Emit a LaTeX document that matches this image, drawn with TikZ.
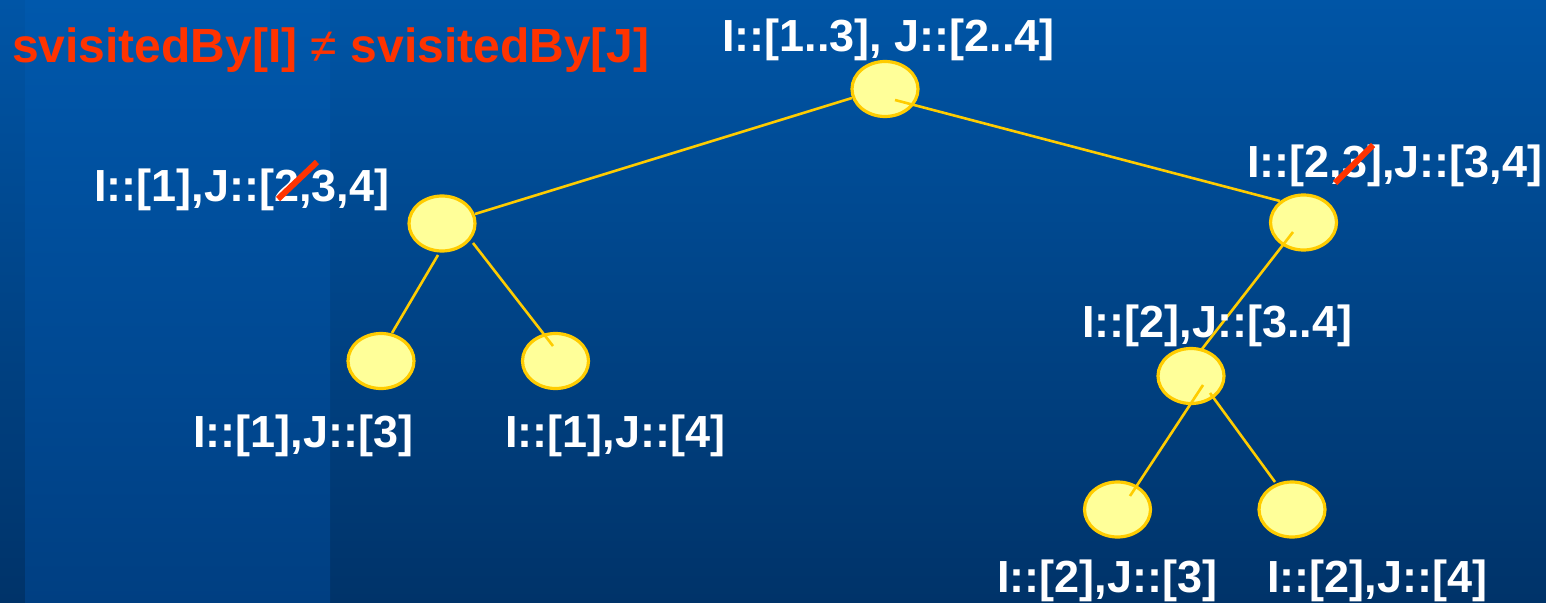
\documentclass[tikz,border=0pt]{standalone}
\usepackage{fontspec}
\setmainfont{Liberation Sans}
\usetikzlibrary{calc,shapes.geometric}
\definecolor{bgtop}{RGB}{0,85,166}
\definecolor{bgbot}{RGB}{0,51,105}
\definecolor{bandtop}{RGB}{0,88,172}
\definecolor{bandbot}{RGB}{0,63,130}
\definecolor{nodefill}{RGB}{255,255,153}
\definecolor{nodeline}{RGB}{255,204,0}
\definecolor{redtxt}{RGB}{255,51,0}
\tikzset{
  vert/.style={ellipse, draw=nodeline, fill=nodefill, line width=3.2pt, minimum width=66pt, minimum height=55pt, inner sep=0pt},
  lbl/.style={anchor=base west, inner sep=0pt, text=white, font=\fontsize{45}{54}\selectfont\bfseries},
  edge/.style={draw=nodeline, line width=2.6pt},
  strike/.style={draw=redtxt, line width=6pt}
}
\begin{document}
\begin{tikzpicture}[x=1pt,y=-1pt]
\useasboundingbox (0,0) rectangle (1546,602);
\shade[top color=bgtop, bottom color=bgbot] (0,0) rectangle (1546,602);
\shade[top color=bandtop, bottom color=bandbot] (25,0) rectangle (330,602);

% title
\node[lbl, text=redtxt, font=\fontsize{48}{56}\selectfont\bfseries] (title) at (12,63) {svisitedBy[I] {\mdseries ≠} svisitedBy[J]};

% vertices
\node[vert] (root) at (885,89) {};
\node[vert] (L) at (442,223.5) {};
\node[vert] (R) at (1303.5,222.5) {};
\node[vert] (LL) at (381,361) {};
\node[vert] (LR) at (555.5,361) {};
\node[vert] (RM) at (1191,376) {};
\node[vert] (RL) at (1117.5,509.5) {};
\node[vert] (RR) at (1292,509.5) {};

% edges
\draw[edge] ($(root)+(-33,9)$) -- ($(L)+(33,-9.5)$);
\draw[edge] ($(root)+(10,11)$) -- ($(R)+(-23.5,-21.5)$);
\draw[edge] ($(L)+(-4,31.5)$) -- ($(LL)+(11,-28)$);
\draw[edge] ($(L)+(31,19.5)$) -- ($(LR)+(-2.5,-15)$);
\draw[edge] ($(R)+(-10.5,9.5)$) -- ($(RM)+(11,-27)$);
\draw[edge] ($(RM)+(12,9)$) -- ($(RL)+(12.5,-13.5)$);
\draw[edge] ($(RM)+(19,17)$) -- ($(RR)+(-17,-27.5)$);

% labels
\node[lbl] (lroot) at (722,52) {I::[1..3], J::[2..4]};
\node[lbl] (lL) at (94,201) {I::[1],J::[2,3,4]};
\node[lbl] (lR) at (1247,177) {I::[2,3],J::[3,4]};
\node[lbl] (lRM) at (1082,337) {I::[2],J::[3..4]};
\node[lbl] (lLL) at (193,447) {I::[1],J::[3]};
\node[lbl] (lLR) at (505,447) {I::[1],J::[4]};
\node[lbl] (lRL) at (997,592) {I::[2],J::[3]};
\node[lbl] (lRR) at (1267,592) {I::[2],J::[4]};

% strike-outs
\coordinate (s1a) at (278,199);
\coordinate (s1b) at (317,162);
\coordinate (s2a) at (1335,183);
\coordinate (s2b) at (1373,145);
\draw[strike] (s1a) -- (s1b);
\draw[strike] (s2a) -- (s2b);
\end{tikzpicture}
\end{document}
